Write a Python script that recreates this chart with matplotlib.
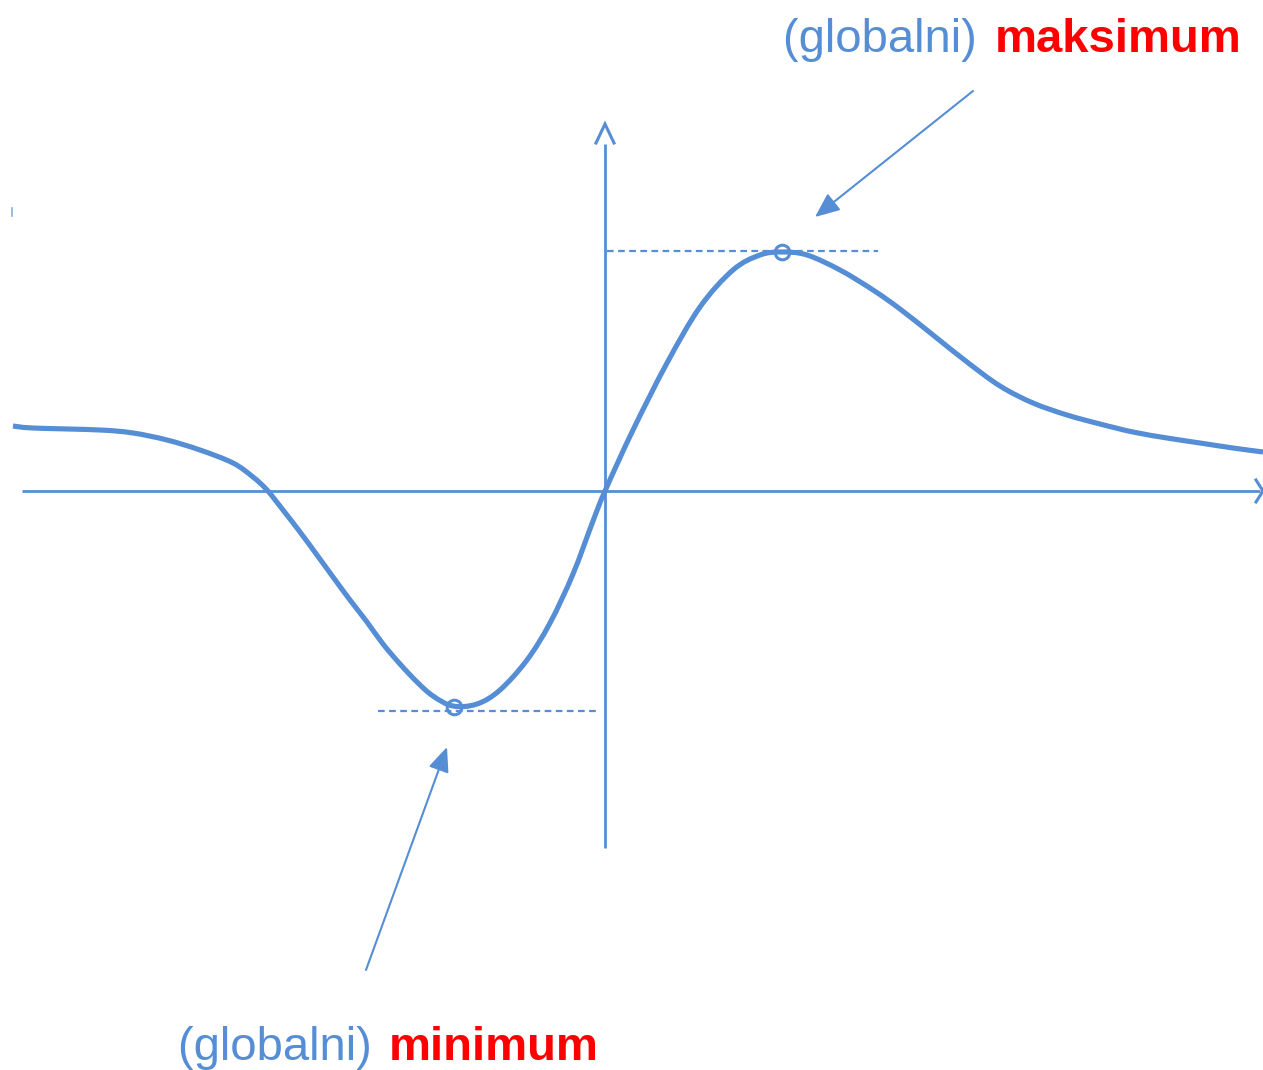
import matplotlib
matplotlib.use("Agg")
import matplotlib.pyplot as plt
from matplotlib.path import Path
from matplotlib.patches import PathPatch
import numpy as np

# Curve points (x right, y up; origin at axis crossing; pixel-like units)
curve_x = [-592, -572, -505, -472, -438, -405, -372, -352, -338, -322, -305,
           -288, -272, -255, -238, -222, -205, -188, -172, -152, -128, -105,
           -78, -55, -32, -12, 0,
           28, 62, 95, 128, 155, 177, 202, 235, 268, 295, 328, 362, 395,
           428, 462, 495, 528, 562, 595, 628, 658]
curve_y = [65, 63, 61, 58, 51, 41, 28, 14, 1, -19, -41,
           -64, -86, -109, -131, -153, -173, -191, -205, -215, -213, -199,
           -169, -132, -83, -30, 0,
           61, 128, 184, 221, 236, 239, 236, 221, 201, 182, 156, 129, 105,
           88, 76, 67, 59, 53, 48, 43, 39]

max_pt = (177, 239)
min_pt = (-151, -216)
max_level_x = [2, 273]
max_level_y = [240, 240]
min_level_x = [-227, -5]
min_level_y = [-220, -220]

label_max = ("(globalni) ", "maksimum")
label_min = ("(globalni) ", "minimum")

BLUE = "#558ED5"
RED = "#FF0000"

fig = plt.figure(figsize=(12.63, 10.70), dpi=100)
ax = fig.add_axes([0, 0, 1, 1])
ax.set_xlim(-605, 658)
ax.set_ylim(-579, 491)
ax.axis("off")

# axes lines
ax.plot([-583, 655], [0, 0], color=BLUE, lw=2.0, solid_capstyle="butt")
ax.plot([0, 0], [-357, 347], color=BLUE, lw=2.0, solid_capstyle="butt")
# chevrons
ax.plot([-9, 0, 9], [348, 367, 348], color=BLUE, lw=2.2, solid_joinstyle="miter")
ax.plot([651, 658, 651], [11, 0, -11], color=BLUE, lw=2.2, solid_joinstyle="miter")

# tiny mark top-left
ax.plot([-593, -593], [275, 283], color=BLUE, lw=1.2, alpha=0.7)

# smooth curve through the read points (Catmull-Rom drawn as cubic Beziers)
P = np.column_stack([curve_x, curve_y]).astype(float)
verts = [P[0]]
codes = [Path.MOVETO]
n = len(P)
for i in range(n - 1):
    p0 = P[i - 1] if i > 0 else P[i]
    p1 = P[i]
    p2 = P[i + 1]
    p3 = P[i + 2] if i + 2 < n else P[i + 1]
    c1 = p1 + (p2 - p0) / 6.0
    c2 = p2 - (p3 - p1) / 6.0
    verts += [c1, c2, p2]
    codes += [Path.CURVE4] * 3
ax.add_patch(PathPatch(Path(verts, codes), facecolor="none", edgecolor=BLUE,
                       lw=3.7, joinstyle="round", capstyle="butt"))

# dotted levels
ax.plot(max_level_x, max_level_y, color=BLUE, lw=1.6, dashes=(3, 2))
ax.plot(min_level_x, min_level_y, color=BLUE, lw=1.6, dashes=(3, 2))

# markers
ax.plot(*max_pt, marker="o", ms=10.5, mfc="none", mec=BLUE, mew=2.2)
ax.plot(*min_pt, marker="o", ms=10.5, mfc="none", mec=BLUE, mew=2.2)

# annotation arrows
ax.annotate("", xy=(210, 274), xytext=(368, 400),
            arrowprops=dict(arrowstyle="-|>,head_length=0.75,head_width=0.32",
                            color=BLUE, lw=1.5, mutation_scale=20,
                            shrinkA=0, shrinkB=0))
ax.annotate("", xy=(-158, -256), xytext=(-239, -479),
            arrowprops=dict(arrowstyle="-|>,head_length=0.75,head_width=0.32",
                            color=BLUE, lw=1.5, mutation_scale=20,
                            shrinkA=0, shrinkB=0))

# labels
fam = ["Liberation Sans", "DejaVu Sans"]
fs = 34
ax.text(178, 439, label_max[0], color=BLUE, fontsize=fs, family=fam,
        ha="left", va="baseline")
ax.text(636, 439, label_max[1], color=RED, fontsize=fs, family=fam,
        fontweight="bold", ha="right", va="baseline")
ax.text(-427, -569, label_min[0], color=BLUE, fontsize=fs, family=fam,
        ha="left", va="baseline")
ax.text(-6, -569, label_min[1], color=RED, fontsize=fs, family=fam,
        fontweight="bold", ha="right", va="baseline")

fig.savefig("out.png", dpi=100, facecolor="white")
